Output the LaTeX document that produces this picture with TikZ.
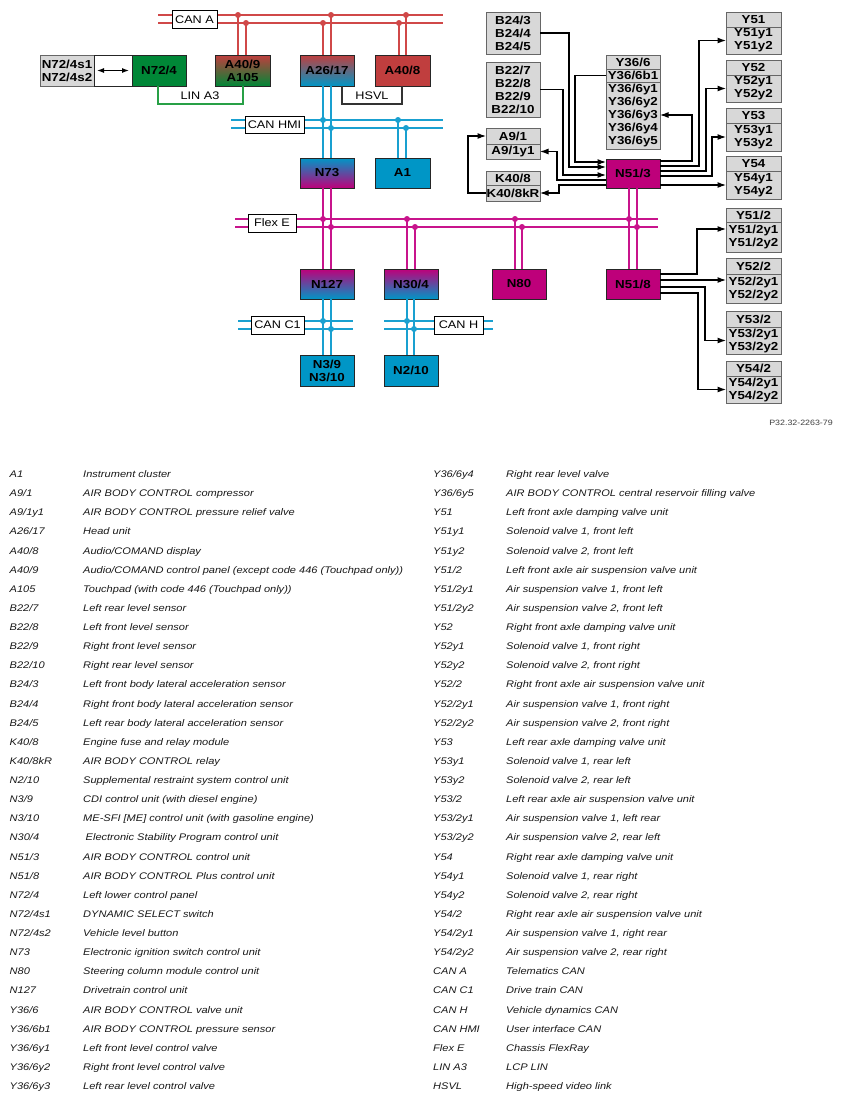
\documentclass[tikz,border=0pt]{standalone}
\usepackage{fontspec}
\setmainfont{Liberation Sans}[FakeStretch=1.15]
\usetikzlibrary{positioning,arrows.meta}

\definecolor{busred}{RGB}{208,72,72}
\definecolor{boxred}{RGB}{192,62,62}
\definecolor{boxgreen}{RGB}{0,135,55}
\definecolor{lingreen}{RGB}{40,160,70}
\definecolor{busblue}{RGB}{25,160,208}
\definecolor{boxblue}{RGB}{0,150,198}
\definecolor{busmag}{RGB}{200,20,140}
\definecolor{boxmag}{RGB}{190,0,122}
\definecolor{boxgray}{RGB}{216,216,216}

\tikzset{
  ecu/.style={draw=black!85, line width=1pt, outer sep=0pt, inner sep=0pt,
    minimum width=54pt, minimum height=30pt, align=center,
    font=\fontsize{11.6}{13}\selectfont\bfseries},
  partbox/.style={ecu, draw=black!60, fill=boxgray, minimum width=55pt},
  buslabel/.style={draw=black, fill=white, line width=0.9pt, inner sep=1.5pt,
    minimum height=18pt, font=\fontsize{11}{12}\selectfont},
  busline/.style={line width=1.9pt},
  sig/.style={draw=black, line width=1.1pt},
  arr/.style={sig, -{Latex[length=8.5pt,width=6pt]}},
  legtext/.style={inner sep=0pt, anchor=base west, text=black!90,
    font=\fontsize{9.6}{11}\selectfont\itshape},
}

\begin{document}
\begin{tikzpicture}[x=1pt,y=-1pt]
  \fill[white] (0,0) rectangle (842,1101);

  % control units
  \node[partbox, minimum width=54pt, minimum height=31pt] (n724s) at (67,70.5) {N72/4s1\\N72/4s2};
  \node[ecu, fill=white, minimum width=38pt, minimum height=31pt, right=0pt of n724s] (n724l) {};
  \node[ecu, fill=boxgreen, minimum height=31pt, right=0pt of n724l] (n724) {N72/4};
  \node[ecu, minimum width=55pt, minimum height=31pt, top color=boxred, bottom color=boxgreen] (a409) at (242.5,70.5) {A40/9\\A105};
  \node[ecu, minimum height=31pt, top color=boxred, middle color=boxred!45!boxblue, bottom color=boxblue] (a2617) at (327,70.5) {A26/17};
  \node[ecu, minimum width=55pt, minimum height=31pt, fill=boxred] (a408) at (402.5,70.5) {A40/8};
  \node[ecu, top color=boxblue, middle color=boxblue!40!boxmag, bottom color=boxmag] (n73) at (327,173) {N73};
  \node[ecu, minimum width=55pt, fill=boxblue] (a1) at (402.5,173) {A1};
  \node[ecu, top color=boxmag, bottom color=boxblue] (n127) at (327,284) {N127};
  \node[ecu, top color=boxmag, bottom color=boxblue] (n304) at (411,284) {N30/4};
  \node[ecu, fill=boxmag] (n80) at (519,284) {N80};
  \node[ecu, fill=boxmag] (n518) at (633,284) {N51/8};
  \node[ecu, fill=boxmag, minimum height=29pt] (n513) at (633,173.5) {N51/3};
  \node[ecu, minimum height=31pt, fill=boxblue] (n39) at (327,370.5) {N3/9\\N3/10};
  \node[ecu, minimum height=31pt, fill=boxblue] (n210) at (411,370.5) {N2/10};

  % sensors and actuators
  \node[partbox, minimum width=54pt, minimum height=42pt] (b243) at (513,33) {B24/3\\B24/4\\B24/5};
  \node[partbox, minimum width=54pt, minimum height=55pt] (b227) at (513,89.5) {B22/7\\B22/8\\B22/9\\B22/10};
  \node[partbox, minimum width=54pt, minimum height=16pt] (a91) at (513,136) {A9/1};
  \node[partbox, minimum width=54pt, minimum height=15pt, below=0pt of a91] (a91b) {A9/1y1};
  \node[partbox, minimum width=54pt, minimum height=14pt] (k408) at (513,178) {K40/8};
  \node[partbox, minimum width=54pt, minimum height=16pt, below=0pt of k408] (k408b) {K40/8kR};
  \node[partbox, minimum width=54pt, minimum height=14pt] (y366) at (633,62) {Y36/6};
  \node[partbox, minimum width=54pt, minimum height=13pt, below=0pt of y366] (y366b) {Y36/6b1};
  \node[partbox, minimum width=54pt, minimum height=67pt, below=0pt of y366b] (y366y) {Y36/6y1\\Y36/6y2\\Y36/6y3\\Y36/6y4\\Y36/6y5};
  \node[partbox, minimum height=15pt] (y51) at (753.5,19.5) {Y51};
  \node[partbox, minimum height=27pt, below=0pt of y51] (y51b) {Y51y1\\Y51y2};
  \node[partbox, minimum height=15pt] (y52) at (753.5,67.5) {Y52};
  \node[partbox, minimum height=27pt, below=0pt of y52] (y52b) {Y52y1\\Y52y2};
  \node[partbox, minimum height=15pt] (y53) at (753.5,115.5) {Y53};
  \node[partbox, minimum height=28pt, below=0pt of y53] (y53b) {Y53y1\\Y53y2};
  \node[partbox, minimum height=15pt] (y54) at (753.5,163.5) {Y54};
  \node[partbox, minimum height=28pt, below=0pt of y54] (y54b) {Y54y1\\Y54y2};
  \node[partbox, minimum height=14pt] (y512) at (753.5,215) {Y51/2};
  \node[partbox, minimum height=30pt, below=0pt of y512] (y512b) {Y51/2y1\\Y51/2y2};
  \node[partbox, minimum height=16pt] (y522) at (753.5,266) {Y52/2};
  \node[partbox, minimum height=29pt, below=0pt of y522] (y522b) {Y52/2y1\\Y52/2y2};
  \node[partbox, minimum height=16pt] (y532) at (753.5,319) {Y53/2};
  \node[partbox, minimum height=27pt, below=0pt of y532] (y532b) {Y53/2y1\\Y53/2y2};
  \node[partbox, minimum height=15pt] (y542) at (753.5,368.5) {Y54/2};
  \node[partbox, minimum height=27pt, below=0pt of y542] (y542b) {Y54/2y1\\Y54/2y2};

  \draw[sig, {Latex[length=7pt,width=5pt]}-{Latex[length=7pt,width=5pt]}] ([xshift=3pt]n724s.east) -- ([xshift=-3pt]n724.west);

  % CAN A
  \coordinate (canaw) at (158,15); \coordinate (canae) at (443,15);
  \draw[busline, busred] (canaw) -- (canae) ([yshift=-8pt]canaw) -- ([yshift=-8pt]canae);
  \foreach \n/\x/\y in {a409/238/15, a409/246/23, a2617/323/23, a2617/331/15, a408/399/23, a408/406/15}{
    \draw[busline, busred] (\n.north -| \x,\y) -- (\x,\y);
    \fill[busred] (\x,\y) circle (3);
  }

  % CAN HMI
  \coordinate (hmiw) at (231,120); \coordinate (hmie) at (443,120);
  \draw[busline, busblue] (hmiw) -- (hmie) ([yshift=-8pt]hmiw) -- ([yshift=-8pt]hmie);
  \draw[busline, busblue] (a2617.south -| 323,0) -- (n73.north -| 323,0) (a2617.south -| 331,0) -- (n73.north -| 331,0);
  \draw[busline, busblue] (a1.north -| 398,0) -- (398,120) (a1.north -| 406,0) -- (406,128);
  \foreach \x/\y in {323/120, 331/128, 398/120, 406/128}
    \fill[busblue] (\x,\y) circle (3);

  % Flex E
  \coordinate (flexw) at (235,219); \coordinate (flexe) at (658,219);
  \draw[busline, busmag] (flexw) -- (flexe) ([yshift=-8pt]flexw) -- ([yshift=-8pt]flexe);
  \draw[busline, busmag] (n73.south -| 323,0) -- (n127.north -| 323,0) (n73.south -| 331,0) -- (n127.north -| 331,0);
  \draw[busline, busmag] (n513.south -| 629,0) -- (n518.north -| 629,0) (n513.south -| 637,0) -- (n518.north -| 637,0);
  \draw[busline, busmag] (n304.north -| 407,0) -- (407,219) (n304.north -| 415,0) -- (415,227);
  \draw[busline, busmag] (n80.north -| 515,0) -- (515,219) (n80.north -| 522,0) -- (522,227);
  \foreach \x/\y in {323/219, 331/227, 407/219, 415/227, 515/219, 522/227, 629/219, 637/227}
    \fill[busmag] (\x,\y) circle (3);

  % CAN C1 and CAN H
  \coordinate (c1w) at (238,321); \coordinate (c1e) at (353,321);
  \coordinate (chw) at (384,321); \coordinate (che) at (493,321);
  \draw[busline, busblue] (c1w) -- (c1e) ([yshift=-8pt]c1w) -- ([yshift=-8pt]c1e);
  \draw[busline, busblue] (chw) -- (che) ([yshift=-8pt]chw) -- ([yshift=-8pt]che);
  \draw[busline, busblue] (n127.south -| 323,0) -- (n39.north -| 323,0) (n127.south -| 331,0) -- (n39.north -| 331,0);
  \draw[busline, busblue] (n304.south -| 407,0) -- (n210.north -| 407,0) (n304.south -| 414,0) -- (n210.north -| 414,0);
  \foreach \x/\y in {323/321, 331/329, 407/321, 414/329}
    \fill[busblue] (\x,\y) circle (3);

  % bus names
  \node[buslabel, minimum width=45pt] (lcana) at (194.5,19.5) {CAN A};
  \node[buslabel, minimum width=59pt, minimum height=17pt] (lhmi) at (274.5,124.5) {CAN HMI};
  \node[buslabel, minimum width=48pt] (lflex) at (272,223) {Flex E};
  \node[buslabel, minimum width=53pt] (lc1) at (277.5,325) {CAN C1};
  \node[buslabel, minimum width=49pt] (lch) at (458.5,325) {CAN H};

  % LIN A3 and HSVL
  \draw[lingreen, line width=1.3pt] (n724.south -| 158,0) |- (243,104) -- (a409.south -| 243,0);
  \node[font=\fontsize{11}{12}\selectfont] (llin) at (200,96) {LIN A3};
  \draw[black!80, line width=1.2pt] (a2617.south -| 342,0) |- (402,104) -- (a408.south -| 402,0);
  \node[font=\fontsize{11}{12}\selectfont] (lhsvl) at (372,96) {HSVL};

  % N51/3 signals
  \draw[arr] (y366b.west) -| (575,162) -- (n513.west |- 0,162);
  \draw[arr] (b243.east) -| (569,167) -- (n513.west |- 0,167);
  \draw[arr] (b227.east) -| (563,175) -- (n513.west |- 0,175);
  \draw[arr] (n513.west |- 0,180) -- (557,180) |- (a91b.east);
  \draw[arr] (n513.west |- 0,185) -- (559,185) |- (k408b.east);
  \draw[arr] (k408b.west) -- ++(-18,0) |- (a91.west);
  \draw[arr] (n513.east |- 0,161) -- (692,161) |- (y366y.east |- 0,115);
  \draw[arr] (n513.east |- 0,166) -- (699,166) |- (y51b.west);
  \draw[arr] (n513.east |- 0,171) -- (706,171) |- (y52b.west);
  \draw[arr] (n513.east |- 0,176) -- (712,176) |- (y53b.west);
  \draw[arr] (n513.east |- y54b.west) -- (y54b.west);

  % N51/8 signals
  \draw[arr] (n518.east |- 0,274) -- (697,274) |- (y512b.west |- 0,229);
  \draw[arr] (n518.east |- 0,280) -- (y522b.west |- 0,280);
  \draw[arr] (n518.east |- 0,287) -- (705,287) |- (y532b.west);
  \draw[arr] (n518.east |- 0,293) -- (698,293) |- (y542b.west);

  \node[anchor=east, inner sep=0pt, text=black!75, font=\fontsize{7.7}{9}\selectfont] (fig) at (833,423) {P32.32-2263-79};

  % legend
  \foreach \c/\d [count=\i from 0] in {{A1}/{Instrument cluster},
      {A9/1}/{AIR BODY CONTROL compressor},
      {A9/1y1}/{AIR BODY CONTROL pressure relief valve},
      {A26/17}/{Head unit},
      {A40/8}/{Audio/COMAND display},
      {A40/9}/{Audio/COMAND control panel (except code 446 (Touchpad only))},
      {A105}/{Touchpad (with code 446 (Touchpad only))},
      {B22/7}/{Left rear level sensor},
      {B22/8}/{Left front level sensor},
      {B22/9}/{Right front level sensor},
      {B22/10}/{Right rear level sensor},
      {B24/3}/{Left front body lateral acceleration sensor},
      {B24/4}/{Right front body lateral acceleration sensor},
      {B24/5}/{Left rear body lateral acceleration sensor},
      {K40/8}/{Engine fuse and relay module},
      {K40/8kR}/{AIR BODY CONTROL relay},
      {N2/10}/{Supplemental restraint system control unit},
      {N3/9}/{CDI control unit (with diesel engine)},
      {N3/10}/{ME-SFI [ME] control unit (with gasoline engine)},
      {N30/4}/{\hspace*{2.5pt}Electronic Stability Program control unit},
      {N51/3}/{AIR BODY CONTROL control unit},
      {N51/8}/{AIR BODY CONTROL Plus control unit},
      {N72/4}/{Left lower control panel},
      {N72/4s1}/{DYNAMIC SELECT switch},
      {N72/4s2}/{Vehicle level button},
      {N73}/{Electronic ignition switch control unit},
      {N80}/{Steering column module control unit},
      {N127}/{Drivetrain control unit},
      {Y36/6}/{AIR BODY CONTROL valve unit},
      {Y36/6b1}/{AIR BODY CONTROL pressure sensor},
      {Y36/6y1}/{Left front level control valve},
      {Y36/6y2}/{Right front level control valve},
      {Y36/6y3}/{Left rear level control valve}}{
    \node[legtext] (lk\i) at ({9.5},{477.5+19.125*\i}) {\c};
    \node[legtext] (ld\i) at ({83},{477.5+19.125*\i}) {\d};
  }
  \foreach \c/\d [count=\i from 0] in {{Y36/6y4}/{Right rear level valve},
      {Y36/6y5}/{AIR BODY CONTROL central reservoir filling valve},
      {Y51}/{Left front axle damping valve unit},
      {Y51y1}/{Solenoid valve 1, front left},
      {Y51y2}/{Solenoid valve 2, front left},
      {Y51/2}/{Left front axle air suspension valve unit},
      {Y51/2y1}/{Air suspension valve 1, front left},
      {Y51/2y2}/{Air suspension valve 2, front left},
      {Y52}/{Right front axle damping valve unit},
      {Y52y1}/{Solenoid valve 1, front right},
      {Y52y2}/{Solenoid valve 2, front right},
      {Y52/2}/{Right front axle air suspension valve unit},
      {Y52/2y1}/{Air suspension valve 1, front right},
      {Y52/2y2}/{Air suspension valve 2, front right},
      {Y53}/{Left rear axle damping valve unit},
      {Y53y1}/{Solenoid valve 1, rear left},
      {Y53y2}/{Solenoid valve 2, rear left},
      {Y53/2}/{Left rear axle air suspension valve unit},
      {Y53/2y1}/{Air suspension valve 1, left rear},
      {Y53/2y2}/{Air suspension valve 2, rear left},
      {Y54}/{Right rear axle damping valve unit},
      {Y54y1}/{Solenoid valve 1, rear right},
      {Y54y2}/{Solenoid valve 2, rear right},
      {Y54/2}/{Right rear axle air suspension valve unit},
      {Y54/2y1}/{Air suspension valve 1, right rear},
      {Y54/2y2}/{Air suspension valve 2, rear right},
      {CAN A}/{Telematics CAN},
      {CAN C1}/{Drive train CAN},
      {CAN H}/{Vehicle dynamics CAN},
      {CAN HMI}/{User interface CAN},
      {Flex E}/{Chassis FlexRay},
      {LIN A3}/{LCP LIN},
      {HSVL}/{High-speed video link}}{
    \node[legtext] (rk\i) at ({433},{477.5+19.125*\i}) {\c};
    \node[legtext] (rd\i) at ({506},{477.5+19.125*\i}) {\d};
  }
\end{tikzpicture}
\end{document}
